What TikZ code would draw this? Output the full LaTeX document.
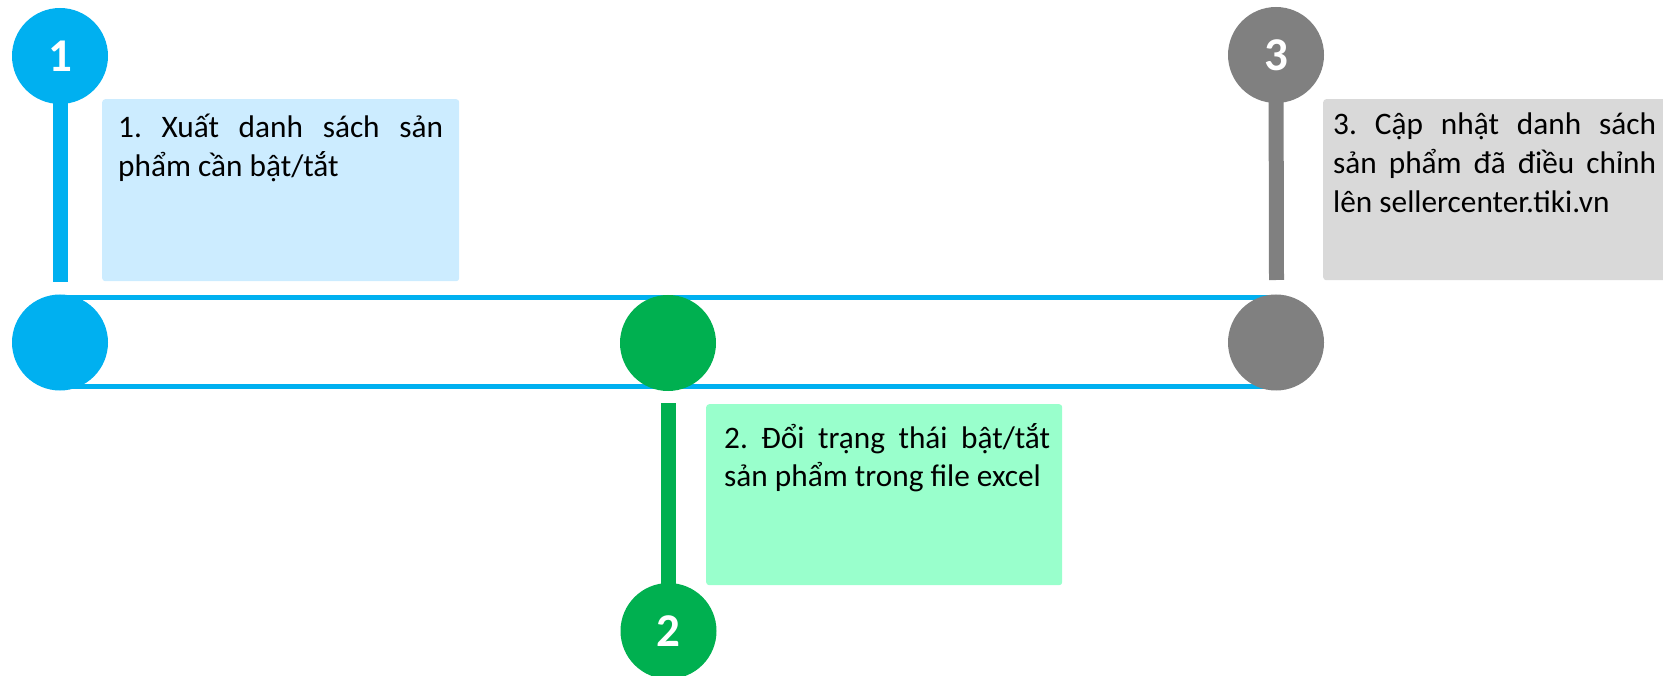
\documentclass[tikz,border=0pt]{standalone}
\usepackage{fontspec}
\setmainfont{Carlito}
\frenchspacing
\definecolor{cblue}{HTML}{00B0F0}
\definecolor{cgreen}{HTML}{00B050}
\definecolor{cgrey}{HTML}{808080}
\definecolor{bblue}{HTML}{CCECFF}
\definecolor{bgreen}{HTML}{99FFCC}
\definecolor{bgrey}{HTML}{D9D9D9}
\tikzset{
  dot/.style={circle, minimum size=96pt, inner sep=0pt, draw=none, text=white,
    font=\fontsize{47}{50}\selectfont\bfseries},
  bar/.style={line width=15pt, line cap=butt},
  rail/.style={line width=5pt, cblue, line cap=butt},
  card/.style={anchor=north west, inner sep=0pt, rounded corners=3pt, draw=none},
  txt/.style={anchor=base west, inner sep=0pt, text=black,
    font=\fontsize{31.3}{38.7}\selectfont\frenchspacing},
}
\begin{document}
\begin{tikzpicture}[x=1pt,y=-1pt]
\useasboundingbox (0,0) rectangle (1663,676);
\clip (0,0) rectangle (1663,676);
% cards
\node[card, fill=bblue, minimum width=357pt, minimum height=182pt] (b1) at (102,99) {};
\node[card, fill=bgreen, minimum width=356pt, minimum height=181pt] (b2) at (706,404) {};
\node[card, fill=bgrey, minimum width=360pt, minimum height=181pt] (b3) at (1323,99) {};
% free ends
\coordinate (e1) at (60,282);
\coordinate (e2) at (668.5,403);
\coordinate (e3) at (1276.5,280);
% positions
\coordinate (p1t) at (60,56);
\coordinate (p1m) at (60,342.5);
\coordinate (p2m) at (668,343);
\coordinate (p2b) at (668.5,631);
\coordinate (p3t) at (1276,55);
\coordinate (p3m) at (1276,342.5);
% rails
\draw[rail] ([yshift=45pt]p1m) -- ([yshift=45pt]p3m);
\draw[rail] ([yshift=-44pt]p1m) -- ([yshift=-44pt]p3m);
% bars
\draw[bar, cblue] (p1t) -- (e1);
\draw[bar, cgreen] (p2b) -- (e2);
\draw[bar, cgrey] (p3t) -- (e3);
% circles
\node[dot, fill=cblue] (c1t) at (p1t) {1};
\node[dot, fill=cblue] (c1m) at (p1m) {};
\node[dot, fill=cgreen] (c2m) at (p2m) {};
\node[dot, fill=cgreen] (c2b) at (p2b) {2};
\node[dot, fill=cgrey] (c3t) at (p3t) {3};
\node[dot, fill=cgrey] (c3m) at (p3m) {};
% texts
\node[txt] (t1) at (118,138) {\vtop{\hbox to 325pt{1. Xuất danh sách sản}\hbox{phẩm cần bật/tắt}}};
\node[txt] (t2) at (724,448) {\vtop{\hbox to 326pt{2. Đổi trạng thái bật/tắt}\hbox{sản phẩm trong file excel}}};
\node[txt] (t3) at (1333,135) {\vtop{\hbox to 323pt{3. Cập nhật danh sách}\hbox to 323pt{sản phẩm đã điều chỉnh}\hbox{lên sellercenter.tiki.vn}}};
\end{tikzpicture}
\end{document}
